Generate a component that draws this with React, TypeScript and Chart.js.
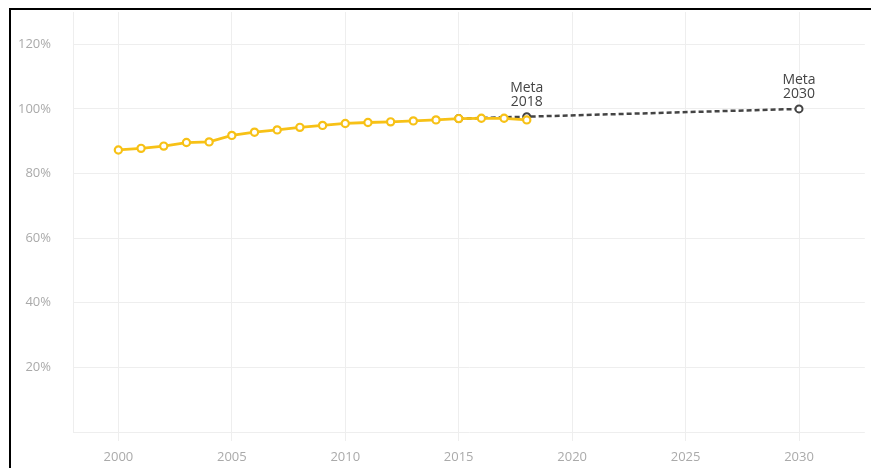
import React, { useEffect, useRef } from "react";
import { Chart, registerables } from "chart.js";

Chart.register(...registerables);

const years = [2000, 2001, 2002, 2003, 2004, 2005, 2006, 2007, 2008, 2009, 2010, 2011, 2012, 2013, 2014, 2015, 2016, 2017, 2018];
const coverage = [87.3, 87.8, 88.5, 89.6, 89.8, 91.8, 92.8, 93.5, 94.3, 94.9, 95.5, 95.8, 96.0, 96.3, 96.6, 97.0, 97.1, 97.1, 96.6];

const goalYears = [2015, 2018, 2030];
const goalValues = [97.0, 97.6, 100];

const metaYears = [2018, 2030];
const metaValues = [97.6, 100];
const metaLabels = [["Meta", "2018"], ["Meta", "2030"]];

const xTicks = [2000, 2005, 2010, 2015, 2020, 2025, 2030];
const yTicks = [0, 20, 40, 60, 80, 100, 120];

const FONT = "'Open Sans', 'DejaVu Sans', sans-serif";

const metaPlugin = {
  id: "metaLabels",
  afterDatasetsDraw(chart: any) {
    const { ctx, scales } = chart;
    ctx.save();
    ctx.font = `14px ${FONT}`;
    ctx.fillStyle = "#444444";
    ctx.textAlign = "center";
    ctx.textBaseline = "middle";
    metaYears.forEach((yr, i) => {
      const px = scales.x.getPixelForValue(yr);
      const py = scales.y.getPixelForValue(metaValues[i]);
      const lines = metaLabels[i];
      lines.forEach((t, j) => {
        const off = (lines.length - j) * 14 + 1;
        ctx.fillText(t, px, py - off);
      });
    });
    ctx.restore();
  },
};

export default function App() {
  const ref = useRef<HTMLCanvasElement | null>(null);

  useEffect(() => {
    if (!ref.current) return;
    const chart = new Chart(ref.current, {
      type: "line",
      data: {
        datasets: [
          {
            label: "Meta",
            data: goalYears.map((x, i) => ({ x, y: goalValues[i] })),
            borderColor: "#444444",
            borderWidth: 2.5,
            borderDash: [5, 3],
            pointRadius: 3.5,
            pointBorderWidth: 2,
            pointBackgroundColor: "#ffffff",
            pointBorderColor: "#444444",
            order: 2,
          },
          {
            label: "Cobertura",
            data: years.map((x, i) => ({ x, y: coverage[i] })),
            borderColor: "#f7c116",
            borderWidth: 2.8,
            pointRadius: 3.6,
            pointBorderWidth: 2.2,
            pointBackgroundColor: "#ffffff",
            pointBorderColor: "#f7c116",
            order: 1,
          },
        ],
      },
      options: {
        responsive: false,
        animation: false,
        layout: { padding: { top: 12, right: 5, left: 0, bottom: 0 } },
        plugins: {
          legend: { display: false },
          tooltip: { enabled: false },
        },
        scales: {
          x: {
            type: "linear",
            min: 1998,
            max: 2032.9,
            afterBuildTicks: (scale: any) => {
              scale.ticks = xTicks.map((v) => ({ value: v }));
            },
            afterFit: (scale: any) => {
              scale.height = 36;
              scale.paddingLeft = 0;
              scale.paddingRight = 0;
            },
            grid: { color: "#eeeeee", lineWidth: 1, drawTicks: true, tickLength: 9 },
            border: { display: false },
            ticks: {
              color: "#aaaaaa",
              font: { family: FONT, size: 13 },
              padding: 8,
              maxRotation: 0,
              callback: (v: any) => String(v),
            },
          },
          y: {
            type: "linear",
            min: 0,
            max: 130,
            afterBuildTicks: (scale: any) => {
              scale.ticks = yTicks.map((v) => ({ value: v }));
            },
            afterFit: (scale: any) => {
              scale.width = 73;
              scale.paddingTop = 0;
              scale.paddingBottom = 0;
            },
            grid: { color: "#eeeeee", lineWidth: 1, drawTicks: false },
            border: { display: true, color: "#eeeeee", width: 1 },
            ticks: {
              color: "#aaaaaa",
              font: { family: FONT, size: 13 },
              padding: 22,
              callback: (v: any) => (v === 0 ? "" : `${v}%`),
            },
          },
        },
      },
      plugins: [metaPlugin],
    });
    return () => chart.destroy();
  }, []);

  return (
    <div style={{ position: "absolute", left: 0, top: 0, width: 871, height: 468, overflow: "hidden", background: "#fff" }}>
      <canvas ref={ref} width={871} height={468} style={{ position: "absolute", left: 0, top: 0 }} />
      <div
        style={{
          position: "absolute",
          left: 9,
          top: 8,
          width: 900,
          height: 500,
          borderTop: "2px solid #000",
          borderLeft: "2px solid #000",
          pointerEvents: "none",
        }}
      />
    </div>
  );
}
